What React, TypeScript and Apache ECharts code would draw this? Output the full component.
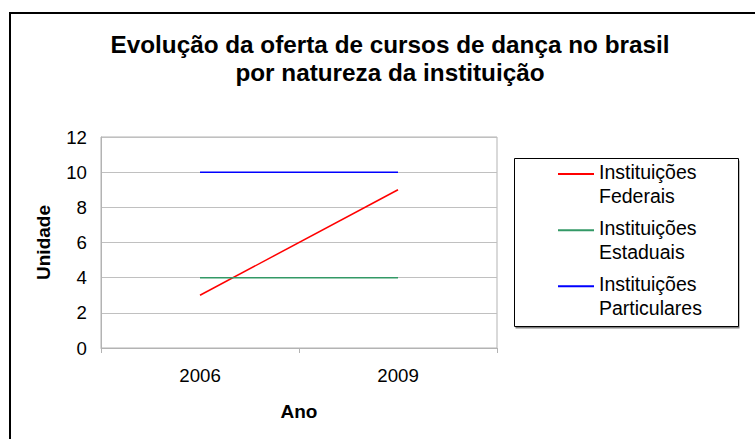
import React, { useEffect, useRef } from "react";
import * as echarts from "echarts";

const TITLE = "Evolução da oferta de cursos de dança no brasil\npor natureza da instituição";
const CATEGORIES = ["2006", "2009"];
const SERIES_NAMES = ["Instituições\nFederais", "Instituições\nEstaduais", "Instituições\nParticulares"];
const FEDERAIS = [3, 9];
const ESTADUAIS = [4, 4];
const PARTICULARES = [10, 10];
const COLORS = ["#ff0000", "#339966", "#0000ff"];
const Y_MIN = 0;
const Y_MAX = 12;
const Y_INTERVAL = 2;
const X_NAME = "Ano";
const Y_NAME = "Unidade";

const FONT = 'Arial, "Liberation Sans", sans-serif';

export default function App() {
  const ref = useRef<HTMLDivElement>(null);
  useEffect(() => {
    if (!ref.current) return;
    const chart = echarts.init(ref.current, null, { renderer: "svg" });
    const values = [FEDERAIS, ESTADUAIS, PARTICULARES];
    chart.setOption({
      animation: false,
      backgroundColor: "#ffffff",
      textStyle: { fontFamily: FONT },
      title: {
        text: TITLE,
        left: 390,
        top: 30,
        padding: 0,
        textAlign: "center",
        textStyle: { fontFamily: FONT, fontSize: 24.3, fontWeight: "bold", color: "#000", lineHeight: 28 },
      },
      graphic: [
        {
          type: "rect",
          shape: { x: 10, y: 13, width: 800, height: 500 },
          style: { fill: "none", stroke: "#000", lineWidth: 2 },
          silent: true,
        },
        {
          type: "rect",
          shape: { x: 515.5, y: 160.5, width: 224, height: 168 },
          style: { fill: "#808080" },
          silent: true,
        },
        {
          type: "rect",
          shape: { x: 514.5, y: 158.5, width: 224, height: 168 },
          style: { fill: "#fff", stroke: "#000", lineWidth: 1 },
          silent: true,
        },
      ],
      legend: {
        orient: "vertical",
        left: 557,
        top: 144.6,
        padding: 0,
        itemWidth: 36,
        itemHeight: 14,
        itemGap: -5.3,
        data: SERIES_NAMES,
        itemStyle: { opacity: 0 },
        formatter: (name: string) =>
          "{e| }\n" + name.split("\n").map((s) => `{t|${s}}`).join("\n"),
        textStyle: {
          fontFamily: FONT,
          fontSize: 19.5,
          color: "#000",
          rich: {
            e: { fontFamily: FONT, fontSize: 10, lineHeight: 19.3 },
            t: { fontFamily: FONT, fontSize: 19.5, lineHeight: 24.5, color: "#000" },
          },
        },
      },
      grid: {
        left: 101,
        right: 258,
        top: 137,
        bottom: 91,
        show: true,
        borderColor: "#b3b3b3",
        borderWidth: 1,
        backgroundColor: "transparent",
      },
      xAxis: {
        type: "category",
        data: CATEGORIES,
        boundaryGap: true,
        name: X_NAME,
        nameLocation: "middle",
        nameGap: 54,
        nameTextStyle: { fontFamily: FONT, fontSize: 19, fontWeight: "bold", color: "#000" },
        axisLine: { lineStyle: { color: "#b3b3b3", width: 1 } },
        axisTick: { show: true, length: 5, lineStyle: { color: "#b3b3b3" } },
        axisLabel: { fontFamily: FONT, fontSize: 18.67, color: "#000", margin: 18 },
      },
      yAxis: {
        type: "value",
        min: Y_MIN,
        max: Y_MAX,
        interval: Y_INTERVAL,
        name: Y_NAME,
        nameLocation: "middle",
        nameGap: 48,
        nameRotate: 90,
        nameTextStyle: { fontFamily: FONT, fontSize: 19, fontWeight: "bold", color: "#000" },
        axisLine: { show: true, lineStyle: { color: "#b3b3b3", width: 1 } },
        axisTick: { show: false },
        axisLabel: { fontFamily: FONT, fontSize: 18.67, color: "#000", margin: 14 },
        splitLine: { show: true, lineStyle: { color: "#c0c0c0", width: 1 } },
      },
      series: SERIES_NAMES.map((name, i) => ({
        name,
        type: "line",
        data: values[i],
        symbol: "none",
        showSymbol: false,
        color: COLORS[i],
        lineStyle: { color: COLORS[i], width: 1.5 },
        itemStyle: { color: COLORS[i] },
      })),
    });
    return () => chart.dispose();
  }, []);
  return (
    <div
      ref={ref}
      style={{ position: "absolute", left: 0, top: 0, width: 755, height: 439 }}
    />
  );
}
